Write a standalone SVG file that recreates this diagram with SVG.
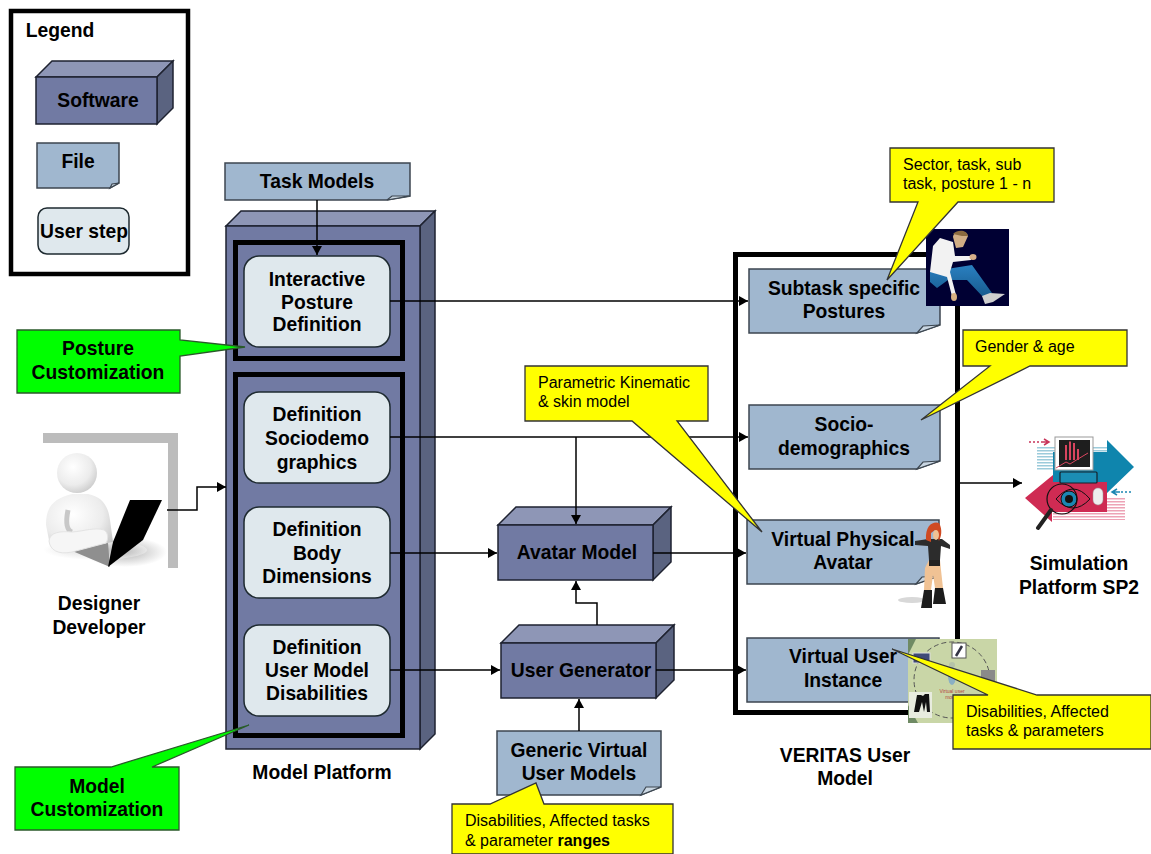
<svg xmlns="http://www.w3.org/2000/svg" width="1151" height="854" viewBox="0 0 1151 854">
<style>
text{font-family:"Liberation Sans",Arial,sans-serif;font-weight:bold;font-size:19.3px;fill:#000;text-anchor:middle}
.n{font-weight:normal;font-size:16px;text-anchor:start}
.f{fill:#a0b7cf;stroke:#3c4650;stroke-width:1.5}
.fold{fill:#c9d6e2;stroke:#3c4650;stroke-width:1.2}
.front{fill:#717aa3;stroke:#1e2230;stroke-width:1.5}
.top{fill:#8e96b6;stroke:#1e2230;stroke-width:1.5}
.side{fill:#5a6380;stroke:#1e2230;stroke-width:1.5}
.step{fill:#dfe8ed;stroke:#1e2a30;stroke-width:1.5}
.call{fill:#ffff00;stroke:#333;stroke-width:1.3}
.green{fill:#00ff00;stroke:#2a5a2a;stroke-width:1.3}
.frame{fill:none;stroke:#000;stroke-width:5}
.c{fill:none;stroke:#000;stroke-width:1.5;marker-end:url(#a)}
</style>
<defs>
<marker id="a" markerUnits="userSpaceOnUse" markerWidth="10" markerHeight="10" refX="9" refY="5" orient="auto"><path d="M0 0L9 5L0 10z" fill="#000"/></marker>
<radialGradient id="w" cx=".4" cy=".35" r=".75"><stop offset="0" stop-color="#fff"/><stop offset=".6" stop-color="#ececec"/><stop offset="1" stop-color="#c4c4c4"/></radialGradient>
<radialGradient id="sh"><stop offset="0" stop-color="#999"/><stop offset="1" stop-color="#fff"/></radialGradient>
<linearGradient id="jean" x1="0" y1="0" x2="0" y2="1"><stop offset="0" stop-color="#2a80c0"/><stop offset="1" stop-color="#175a8e"/></linearGradient>
<pattern id="pb" width="4" height="3" patternUnits="userSpaceOnUse"><rect width="4" height="1.500" fill="#9ccbdb"/></pattern>
<pattern id="pr" width="4" height="3" patternUnits="userSpaceOnUse"><rect width="4" height="1.500" fill="#eda3b6"/></pattern>
</defs>

<g id="legend">
<rect x="11" y="11" width="177" height="263" fill="#fff" stroke="#000" stroke-width="4.5"/>
<text x="60" y="37">Legend</text>
<path class="top" d="M36 77L52 61H173L157 77z"/><path class="side" d="M157 77L173 61V108L157 124z"/><rect class="front" x="36" y="77" width="121" height="47"/>
<text x="98" y="107">Software</text>
<path class="f" d="M37 143H119V183L110 188H37z"/><path class="fold" d="M110 188L112 184L119 183z"/>
<text x="78" y="168">File</text>
<rect class="step" x="38" y="208" width="91" height="46" rx="9"/>
<text x="84" y="238">User step</text>
</g>

<g id="designer">
<path d="M43 438H173V568" fill="none" stroke="#bcbcbc" stroke-width="10"/>
<ellipse cx="125" cy="552" rx="42" ry="15" fill="url(#sh)" opacity=".75"/>
<ellipse cx="95" cy="550" rx="52" ry="10" fill="url(#sh)" opacity=".35"/>
<path d="M46 525C46 508 52 499 72 494H88C102 497 108 505 110 520L113 542L60 552L50 545z" fill="url(#w)"/>
<circle cx="77" cy="473" r="20" fill="url(#w)"/>
<path d="M68 510C66 520 66 530 72 532" fill="none" stroke="#c8c8c8" stroke-width="5"/>
<path d="M70 550L108 543L110 567z" fill="#8f8f8f"/>
<path d="M49 541C50 532 60 531 72 532C85 531 95 527 104 530C109 533 108 540 106 543L72 552C58 555 50 550 49 541z" fill="#f6f6f6" stroke="#e4e4e4"/>
<path d="M130 500H162L143 540L108 567L113 542z" fill="#000"/>
<text x="99" y="610">Designer</text><text x="99" y="634">Developer</text>
</g>

<g id="task-models">
<path class="f" d="M225 163H410V196L387 200H225z"/><path class="fold" d="M387 200L392 196L410 196z"/>
<text x="317" y="188">Task Models</text>
</g>

<g id="model-platform">
<path class="top" d="M226 226L241 211H435L420 226z"/><path class="side" d="M420 226L435 211V734L420 749z"/><rect class="front" x="226" y="226" width="194" height="523"/>
<rect class="frame" x="235.500" y="242.500" width="167" height="116"/>
<rect class="frame" x="235.500" y="374.500" width="167" height="361"/>
<text x="322" y="779">Model Platform</text>
</g>
<g id="interactive-posture"><rect class="step" x="244" y="256" width="146" height="91" rx="15"/><text x="317" y="286">Interactive</text><text x="317" y="309">Posture</text><text x="317" y="331">Definition</text></g>
<g id="def-socio"><rect class="step" x="244" y="392" width="146" height="91" rx="15"/><text x="317" y="421">Definition</text><text x="317" y="445">Sociodemo</text><text x="317" y="469">graphics</text></g>
<g id="def-body"><rect class="step" x="244" y="507" width="146" height="91" rx="15"/><text x="317" y="536">Definition</text><text x="317" y="560">Body</text><text x="317" y="583">Dimensions</text></g>
<g id="def-disab"><rect class="step" x="244" y="625" width="146" height="91" rx="15"/><text x="317" y="654">Definition</text><text x="317" y="677">User Model</text><text x="317" y="700">Disabilities</text></g>

<g id="veritas-frame"><rect x="735.500" y="254.500" width="222" height="458" fill="none" stroke="#000" stroke-width="5"/>
<text x="845" y="762">VERITAS User</text><text x="845" y="785">Model</text></g>

<g id="subtask"><path class="f" d="M749 269H940V325L917 333H749z"/><path class="fold" d="M917 333L923 326L940 325z"/><text x="844" y="295">Subtask specific</text><text x="844" y="318">Postures</text></g>
<g id="socio"><path class="f" d="M749 405H940V461L917 469H749z"/><path class="fold" d="M917 469L923 462L940 461z"/><text x="844" y="431">Socio-</text><text x="844" y="455">demographics</text></g>
<g id="avatar"><path class="f" d="M747 520H939V576L916 584H747z"/><path class="fold" d="M916 584L922 577L939 576z"/><text x="843" y="546">Virtual Physical</text><text x="843" y="569">Avatar</text></g>
<g id="instance"><path class="f" d="M747 638H939V694L916 702H747z"/><text x="843" y="663">Virtual User</text><text x="843" y="687">Instance</text></g>

<g id="avatar-model"><path class="top" d="M498 525L516 507H671L653 525z"/><path class="side" d="M653 525L671 507V562L653 580z"/><rect class="front" x="498" y="525" width="155" height="55"/><text x="577" y="559">Avatar Model</text></g>
<g id="user-generator"><path class="top" d="M501 643L519 625H674L656 643z"/><path class="side" d="M656 643L674 625V680L656 698z"/><rect class="front" x="501" y="643" width="155" height="55"/><text x="581" y="677">User Generator</text></g>
<g id="generic"><path class="f" d="M497 731H661V787L641 795H497z"/><path class="fold" d="M641 795L646 787L661 787z"/><text x="579" y="757">Generic Virtual</text><text x="579" y="780">User Models</text></g>

<g id="connectors">
<path class="c" d="M317 200V255"/>
<path class="c" d="M390 301H748"/>
<path class="c" d="M390 437H748"/>
<path class="c" d="M576 437V524"/>
<path class="c" d="M390 553H497"/>
<path class="c" d="M390 670H500"/>
<path class="c" d="M653 553H746"/>
<path class="c" d="M656 670H746"/>
<path class="c" d="M597 625V603H576V581"/>
<path class="c" d="M579 731V699"/>
<path class="c" d="M167 510H197V487H226"/>
<path class="c" d="M960 483H1022"/>
</g>

<g id="posture-photo">
<rect x="926" y="229" width="83" height="77" fill="#000033"/>
<path d="M930 272L953 268L972 265L992 293L983 297L967 280L948 280L937 288L930 282z" fill="url(#jean)"/>
<path d="M930 272L933 246L940 238L953 242L955 256L971 256L971 260L953 262L950 272L956 295L952 296L947 277L930 272z" fill="#f2f2f2"/>
<path d="M953 237C953 231 966 229 968 236L963 247L956 248z" fill="#d0ad85"/>
<path d="M953 234C958 229 967 230 968 236L962 236z" fill="#8b6a3f"/>
<ellipse cx="973" cy="257" rx="3.500" ry="3" fill="#d7b08a"/>
<ellipse cx="954" cy="297" rx="3" ry="4" fill="#d9b282"/>
<path d="M982 296L990 293L1005 294L993 302L985 304z" fill="#cfcfcf"/>
</g>
<g id="avatar-figure">
<ellipse cx="912" cy="600" rx="14" ry="3" fill="#d8d8d8"/>
<path d="M915 541L928 539H942L950 545L950 549L941 546L940 560H929L928 546L915 545z" fill="#2c2c2c"/>
<path d="M925 568L929 560H940L941 570L943 588H935L933 575L931 590H924z" fill="#f0c294"/>
<rect x="929" y="560" width="11" height="6" fill="#222"/>
<path d="M924 590H932L932 608H921z" fill="#1c1c1c"/><path d="M935 588H943L946 604H933z" fill="#1c1c1c"/>
<path d="M926 540C925 524 934 521 939 523C943 530 941 537 939 541L935 530L931 533L931 542z" fill="#cf4a22"/>
<ellipse cx="936" cy="535" rx="3" ry="5" fill="#f0c294"/>
</g>
<g id="user-ring">
<rect x="908" y="639" width="89" height="84" fill="#c9d6a7"/>
<path d="M908 639H916L908 655zM908 705L918 723H908z" fill="#6f8a64"/>
<circle cx="952" cy="680" r="38" fill="none" stroke="#555" stroke-width="1" stroke-dasharray="5 3"/>
<rect x="952" y="643" width="14" height="15" fill="#fff" stroke="#555"/><path d="M956 656L962 646" stroke="#334" stroke-width="2.500"/>
<circle cx="952" cy="665" r="3" fill="#b5c3a8"/><ellipse cx="952" cy="676" rx="4" ry="9" fill="#8ab0c4"/>
<text x="952" y="693" style="font-size:5px;font-weight:normal;fill:#b5483d">Virtual user</text>
<text x="952" y="699" style="font-size:5px;font-weight:normal;fill:#b5483d">model</text>
<rect x="909" y="692" width="23" height="26" fill="#e8ecdf"/>
<path d="M914 712L917 695H921L923 696L925 694H929L930 712H927L926 702L924 712L922 702L919 712z" fill="#111"/>
<rect x="913" y="653" width="17" height="10" fill="#3f4a78" stroke="#ddd"/>
<rect x="981" y="670" width="14" height="12" fill="#8a8a8a"/>
</g>
<g id="sim-platform">
<path d="M1037 447H1107V470H1037z" fill="url(#pb)"/>
<path d="M1053 452H1107V440L1134 467L1107 493V484H1053z" fill="#0f85ad"/>
<rect x="1055" y="437" width="38" height="33" fill="#fff" stroke="#999"/><rect x="1059" y="440" width="31" height="27" fill="#1e1e1e"/>
<path d="M1066 460V445M1070 460V441.500M1074 460V443M1078 460V449" stroke="#d8455f" stroke-width="2"/>
<path d="M1056 468L1066 462L1070 464L1078 459L1088 453" fill="none" stroke="#d8455f" stroke-width="1"/>
<path d="M1053 497H1125V520H1053z" fill="url(#pr)"/>
<path d="M1025 498L1053 475V482H1107V512H1052V522z" fill="#cf2b53"/>
<rect x="1060" y="472" width="37" height="11" rx="1" fill="#1b8db4" stroke="#17202a" stroke-width="1.200"/>
<path d="M1056 499Q1073 479 1090 499Q1073 517 1056 499z" fill="#cf2b53" stroke="#111" stroke-width="1"/>
<circle cx="1069" cy="499" r="8" fill="#1b86b2" stroke="#111"/><circle cx="1069" cy="499" r="4" fill="#111"/>
<circle cx="1062" cy="499" r="15" fill="none" stroke="#111" stroke-width="1.200"/>
<path d="M1051 510L1038 528" stroke="#222" stroke-width="4" stroke-linecap="round"/>
<rect x="1093" y="488" width="10" height="17" rx="5" fill="#eee" stroke="#999" stroke-width=".5"/>
<path d="M1029 442H1041" stroke="#c8345a" stroke-width="1.500" stroke-dasharray="2 2"/><path d="M1041 442H1048M1044 439L1049 442L1044 445" fill="none" stroke="#c8345a" stroke-width="1.500"/>
<path d="M1131 492H1120" stroke="#1b86b2" stroke-width="1.500" stroke-dasharray="2 2"/><path d="M1120 492H1113M1117 489L1112 492L1117 495" fill="none" stroke="#1b86b2" stroke-width="1.500"/>
<text x="1079" y="570">Simulation</text><text x="1079" y="594">Platform SP2</text>
</g>

<g id="callouts">
<path class="green" d="M17 330H180V340L245 347L180 356V393H17z"/><text x="98" y="355">Posture</text><text x="98" y="379">Customization</text>
<path class="green" d="M15 767H111L249 725L152 767H179V830H15z"/><text x="97" y="793">Model</text><text x="97" y="816">Customization</text>
<path class="call" d="M890 148H1054V202H958L887 280L918 202H890z"/><text class="n" x="903" y="170">Sector, task, sub</text><text class="n" x="903" y="189">task, posture 1 - n</text>
<path class="call" d="M963 330H1127V366H1030L921 420L990 366H963z"/><text class="n" x="975" y="352">Gender &amp; age</text>
<path class="call" d="M525 366H708V421H677L762 532L632 421H525z"/><text class="n" x="538" y="388">Parametric Kinematic</text><text class="n" x="538" y="407">&amp; skin model</text>
<path class="call" d="M953 695H988L892 649L1037 695H1151V749H953z"/><text class="n" x="966" y="717">Disabilities, Affected</text><text class="n" x="966" y="736">tasks &amp; parameters</text>
<path class="call" d="M452 804H490L536 783L544 804H673V854H452z"/><text class="n" x="465" y="826">Disabilities, Affected tasks</text><text class="n" x="465" y="846">&amp; parameter <tspan font-weight="bold">ranges</tspan></text>
</g>
</svg>
